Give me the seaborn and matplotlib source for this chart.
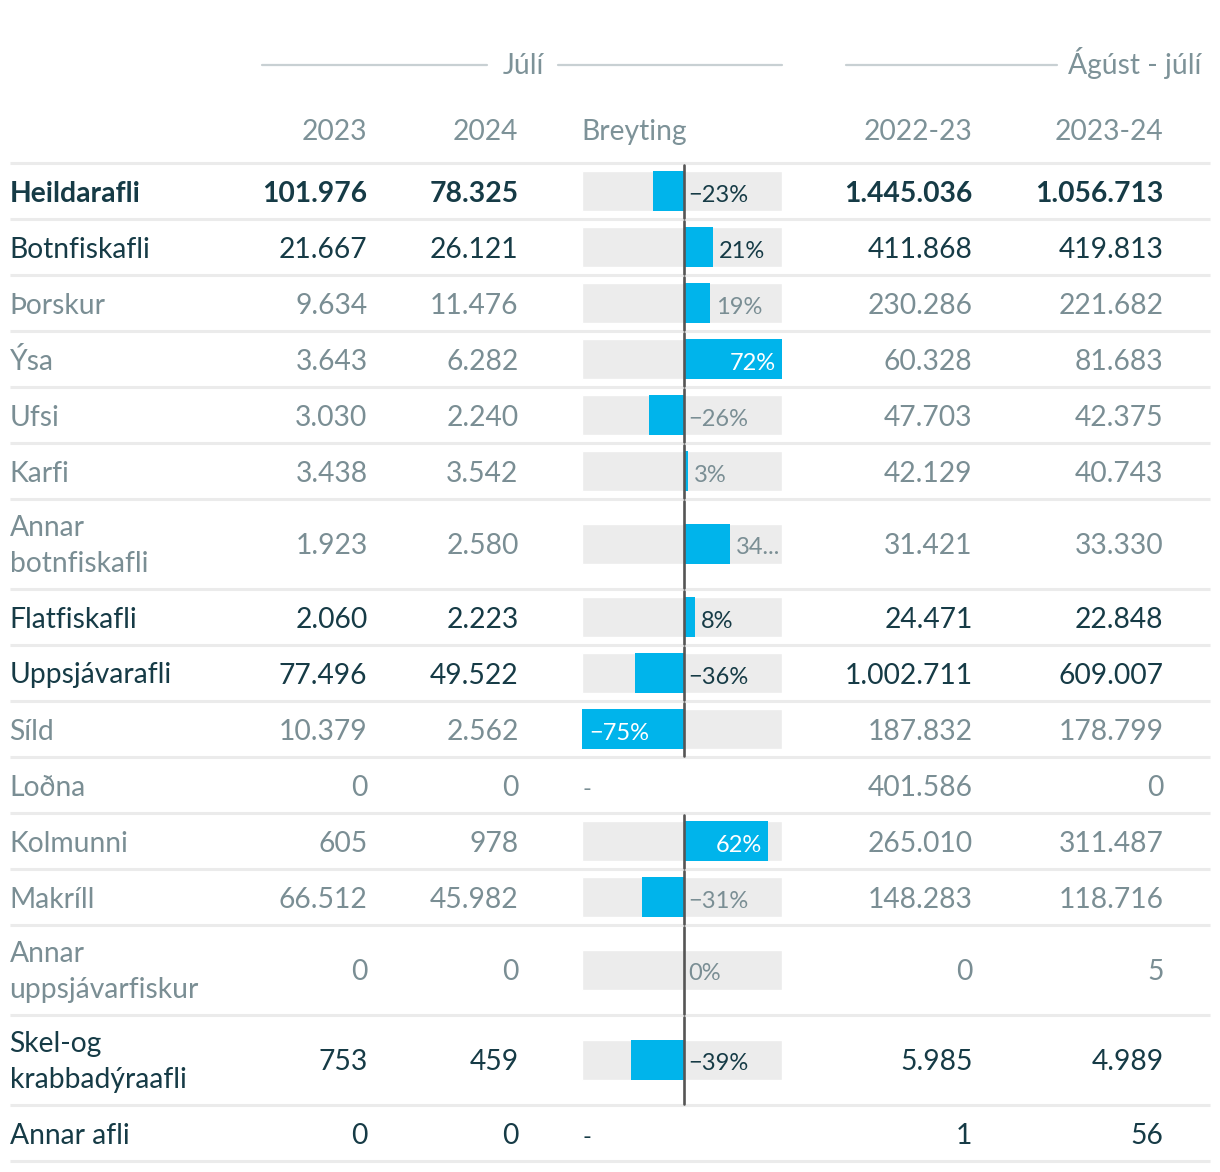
import matplotlib
matplotlib.use("Agg")
import matplotlib.pyplot as plt
import seaborn as sns
import numpy as np
import pandas as pd

# ---------------- data ----------------
categories = ["Heildarafli", "Botnfiskafli", "Þorskur", "Ýsa", "Ufsi", "Karfi",
              "Annar\nbotnfiskafli", "Flatfiskafli", "Uppsjávarafli", "Síld",
              "Loðna", "Kolmunni", "Makríll", "Annar\nuppsjávarfiskur",
              "Skel-og\nkrabbadýraafli", "Annar afli"]
level = ["total", "main", "sub", "sub", "sub", "sub", "sub", "main", "main",
         "sub", "sub", "sub", "sub", "sub", "main", "main"]
jul_2023 = [101976, 21667, 9634, 3643, 3030, 3438, 1923, 2060, 77496, 10379,
            0, 605, 66512, 0, 753, 0]
jul_2024 = [78325, 26121, 11476, 6282, 2240, 3542, 2580, 2223, 49522, 2562,
            0, 978, 45982, 0, 459, 0]
change_pct = [-23, 21, 19, 72, -26, 3, 34, 8, -36, -75, None, 62, -31, 0, -39, None]
yr_2022_23 = [1445036, 411868, 230286, 60328, 47703, 42129, 31421, 24471,
              1002711, 187832, 401586, 265010, 148283, 0, 5985, 1]
yr_2023_24 = [1056713, 419813, 221682, 81683, 42375, 40743, 33330, 22848,
              609007, 178799, 0, 311487, 118716, 5, 4989, 56]

group_titles = ["Júlí", "Ágúst - júlí"]
col_headers = ["2023", "2024", "Breyting", "2022-23", "2023-24"]

# ---------------- style ----------------
sns.set_theme(style="white")
plt.rcParams["font.family"] = ["Lato", "DejaVu Sans"]

W, H = 1220, 1172
DARK = "#163b46"
GREY = "#7a8e94"
HEAD = "#7d9298"
BLUE = "#00b4eb"
BG = "#ececec"
SEP = "#ebebeb"
FS = 20.3
FS_PCT = 17

fig = plt.figure(figsize=(W / 100, H / 100), dpi=100)
ax = fig.add_axes([0, 0, 1, 1])
ax.set_xlim(0, W)
ax.set_ylim(H, 0)
ax.axis("off")

# row layout
top = 163
heights = [90 if "\n" in c else 56 for c in categories]
edges = np.concatenate([[top], top + np.cumsum(heights)])
centers = (edges[:-1] + edges[1:]) / 2


def fmt(v):
    return f"{v:,}".replace(",", ".")


LX = 9.5       # left text x
BOFF = 10.5    # baseline offset from row centre

# header
hy1, hy2 = 65, 131
ax.text(523, hy1 + 9, group_titles[0], ha="center", va="baseline", fontsize=FS, color=HEAD)
ax.plot([262, 487], [hy1, hy1], color="#c8d0d3", lw=1.6)
ax.plot([558, 782], [hy1, hy1], color="#c8d0d3", lw=1.6)
ax.text(1201, hy1 + 9, group_titles[1], ha="right", va="baseline", fontsize=FS, color=HEAD)
ax.plot([846, 1057], [hy1, hy1], color="#c8d0d3", lw=1.6)

col_x = [367.5, 518.5, 581.5, 972.5, 1163.5]
col_ha = ["right", "right", "left", "right", "right"]
for x, ha, t in zip(col_x, col_ha, col_headers):
    ax.text(x, hy2 + 9, t, ha=ha, va="baseline", fontsize=FS, color=HEAD)

# separators
for e in edges:
    ax.plot([10, 1210], [e, e], color=SEP, lw=2.2, zorder=1, solid_capstyle="butt")

# text cells
num_x = [367.5, 518.5, 972.5, 1163.5]
for i, cat in enumerate(categories):
    c = centers[i]
    color = GREY if level[i] == "sub" else DARK
    weight = "bold" if level[i] == "total" else "normal"
    lines = cat.split("\n")
    if len(lines) == 1:
        ax.text(LX, c + BOFF, cat, ha="left", va="baseline", fontsize=FS, color=color, weight=weight)
    else:
        ax.text(LX, c - 8, lines[0], ha="left", va="baseline", fontsize=FS, color=color, weight=weight)
        ax.text(LX, c + 28, lines[1], ha="left", va="baseline", fontsize=FS, color=color, weight=weight)
    for x, vals in zip(num_x, [jul_2023, jul_2024, yr_2022_23, yr_2023_24]):
        ax.text(x, c + BOFF, fmt(vals[i]), ha="right", va="baseline", fontsize=FS,
                color=color, weight=weight)
    if change_pct[i] is None:
        ax.text(583, c + BOFF, "-", ha="left", va="baseline", fontsize=FS_PCT, color=color)

# ---------------- change bars ----------------
vals = [v for v in change_pct if v is not None]
lo, hi = min(vals), max(vals)
bx = fig.add_axes([582 / W, 0, 200 / W, 1])
bx.patch.set_alpha(0)
bx.axis("off")

df = pd.DataFrame({"pos": centers, "change": change_pct, "cat": categories})
dfb = df.dropna(subset=["change"]).copy()
dfb["change"] = dfb["change"].astype(float)

# background tracks
bx.barh(dfb["pos"], hi - lo, left=lo, height=40, color=BG, zorder=1)
sns.barplot(data=dfb, x="change", y="pos", orient="h", native_scale=True,
            width=40 / 56, color=BLUE, saturation=1, linewidth=0, errorbar=None,
            ax=bx, zorder=2)
bx.set_xlim(lo, hi)
bx.set_ylim(H, 0)
bx.axis("off")

ppp = 200 / (hi - lo)  # pixels per percent
for i in dfb.index:
    bx.plot([0, 0], [edges[i] + 1.5, edges[i + 1] - 1.5], color="#555555", lw=1.9, zorder=3)

fig.canvas.draw()
renderer = fig.canvas.get_renderer()
for i in dfb.index:
    v = change_pct[i]
    c = centers[i]
    color = GREY if level[i] == "sub" else DARK
    label = f"{v}%".replace("-", "\u2212")
    barpx = abs(v) * ppp
    if barpx > 75:
        if v > 0:
            bx.text(v - 6 / ppp, c + BOFF, label, ha="right", va="baseline",
                    fontsize=FS_PCT, color="white", zorder=4)
        else:
            bx.text(v + 7 / ppp, c + BOFF, label, ha="left", va="baseline",
                    fontsize=FS_PCT, color="white", zorder=4)
    else:
        x0 = (v + 6 / ppp) if v > 0 else (4 / ppp)
        t = bx.text(x0, c + BOFF, label, ha="left", va="baseline",
                    fontsize=FS_PCT, color=color, zorder=4)
        ext = t.get_window_extent(renderer=renderer)
        right_limit = bx.transData.transform((hi, 0))[0]
        if ext.x1 > right_limit - 1:
            t.set_text(label[:-1] + "...")

fig.savefig("out.png", dpi=100)
